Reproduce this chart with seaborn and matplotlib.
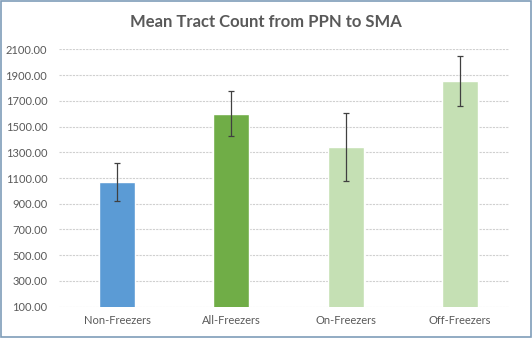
import matplotlib
matplotlib.use("Agg")
import matplotlib.pyplot as plt
from matplotlib.patches import Rectangle
from matplotlib.ticker import FormatStrFormatter
import seaborn as sns
import pandas as pd

# Group means and error half-widths of tract counts
groups = ["Non-Freezers", "All-Freezers", "On-Freezers", "Off-Freezers"]
mean_count = [1068, 1600, 1340, 1852]
err_count = [145, 175, 265, 195]
bar_colors = ["#5B9BD5", "#70AD47", "#C5E0B4", "#C5E0B4"]
y_ticks = [100, 300, 500, 700, 900, 1100, 1300, 1500, 1700, 1900, 2100]

sns.set_theme(style="white")
plt.rcParams["font.family"] = ["Lato", "DejaVu Sans"]

df = pd.DataFrame({"group": groups, "count": mean_count})

fig = plt.figure(figsize=(5.32, 3.38), dpi=100)
ax = fig.add_axes([0.111, 0.0926, 0.846, 0.7615])

sns.barplot(data=df, x="group", y="count", hue="group", palette=bar_colors,
            saturation=1, legend=False, width=0.315, ax=ax, zorder=3)
ax.errorbar(range(len(groups)), mean_count, yerr=err_count, fmt="none",
            ecolor="#404040", elinewidth=0.9, capsize=2.4, capthick=0.9, zorder=4)

ax.set_ylim(100, 2100)
ax.set_xlim(-0.507, 3.43)
ax.set_yticks(y_ticks)
ax.yaxis.set_major_formatter(FormatStrFormatter("%.2f"))
ax.grid(axis="y", color="#D0D0D0", linestyle=(0, (2, 1)), linewidth=0.8, zorder=0)
ax.set_xlabel("")
ax.set_ylabel("")
for s in ax.spines.values():
    s.set_visible(False)
ax.tick_params(axis="both", length=0, labelsize=8, colors="#595959")
ax.tick_params(axis="y", pad=8.5)
ax.tick_params(axis="x", pad=6)

fig.text(0.5, 0.935, "Mean Tract Count from PPN to SMA", ha="center", va="center",
         fontsize=12, fontweight="bold", color="#595959")

fig.patches.append(Rectangle((0.001, 0.002), 0.997, 0.995, transform=fig.transFigure,
                             fill=False, edgecolor="#7F9DB9", linewidth=1.2))

fig.savefig("out.png", dpi=100)
